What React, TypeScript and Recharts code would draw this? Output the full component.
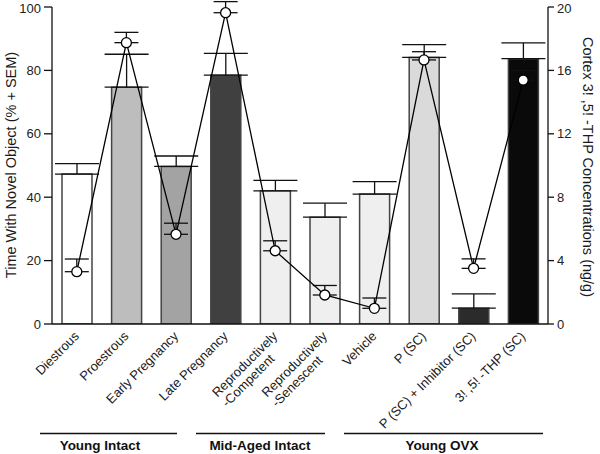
import React from 'react';
import { ComposedChart, Bar, Line, XAxis, YAxis, ErrorBar, Cell } from 'recharts';

const categories = [
  'Diestrous',
  'Proestrous',
  'Early Pregnancy',
  'Late Pregnancy',
  'Reproductively\n-Competent',
  'Reproductively\n-Senescent',
  'Vehicle',
  'P (SC)',
  'P (SC) + Inhibitor (SC)',
  '3! ,5! -THP (SC)',
];
const novelObjectPct = [47.3, 74.7, 49.7, 78.5, 42.0, 33.7, 41.0, 84.1, 5.0, 83.7];
const novelObjectSem = [3.3, 10.4, 3.3, 6.9, 3.3, 4.4, 3.9, 4.0, 4.5, 5.0];
const thpConcentration = [3.3, 17.75, 5.66, 19.64, 4.62, 1.83, 0.99, 16.66, 3.51, 15.39];
const thpSem = [0.8, 0.65, 0.7, 0.7, 0.63, 0.6, 0.65, 0.52, 0.6, 0.6];
const leftTicks = [0, 20, 40, 60, 80, 100];
const rightTicks = [0, 4, 8, 12, 16, 20];
const groupNames = ['Young Intact', 'Mid-Aged Intact', 'Young OVX'];

const data = categories.map((c, i) => ({
  name: c,
  pct: novelObjectPct[i],
  pctErr: [0, novelObjectSem[i]],
  thp: thpConcentration[i],
  thpErr: [0, thpSem[i]],
}));

// styling
const FONT = "'Liberation Sans', Arial, sans-serif";
const barFills = ['#ffffff', '#bdbdbd', '#a3a3a3', '#404040', '#efefef', '#efefef', '#efefef', '#dadada', '#2b2b2b', '#0a0a0a'];
const PLOT_BOTTOM = 324;
const groupLayout = [
  { x1: 40, x2: 177, cx: 100 },
  { x1: 196, x2: 325, cx: 260 },
  { x1: 344, x2: 543, cx: 442 },
];

let ctx: CanvasRenderingContext2D | null = null;
function measure(text: string, font: string) {
  if (!ctx) {
    const c = document.createElement('canvas');
    ctx = c.getContext('2d');
  }
  if (!ctx) return text.length * 7;
  ctx.font = font;
  return ctx.measureText(text).width;
}

function CategoryTick(props: any) {
  const { x, payload, index } = props;
  const lines = String(payload.value).split('\n');
  const ax = x + 3;
  const ay = PLOT_BOTTOM + 13;
  const fs = 13;
  const w1 = measure(lines[0], `${fs}px ${FONT}`);
  return (
    <g>
      <text
        transform={`rotate(-45, ${ax}, ${ay})`}
        x={ax - w1}
        y={ay}
        textAnchor="start"
        fontFamily={FONT}
        fontSize={fs}
        fill="#1a1a1a"
      >
        {lines.map((l, i) => (
          <tspan key={i} x={ax - w1} dy={i === 0 ? 0 : 14}>
            {l}
          </tspan>
        ))}
      </text>
      {index === 0 && (
        <g>
          {groupNames.map((g, i) => (
            <g key={g}>
              <line x1={groupLayout[i].x1} x2={groupLayout[i].x2} y1={433.5} y2={433.5} stroke="#111" strokeWidth={1.3} />
              <text x={groupLayout[i].cx} y={450} textAnchor="middle" fontFamily={FONT} fontWeight="bold" fontSize={13.5} fill="#111">
                {g}
              </text>
            </g>
          ))}
          <text
            transform="rotate(-90, 16, 165)"
            x={16}
            y={165}
            textAnchor="middle"
            fontFamily={FONT}
            fontSize={14.5}
            fill="#1a1a1a"
          >
            Time With Novel Object (% + SEM)
          </text>
          <text
            transform="rotate(90, 583, 167)"
            x={583}
            y={167}
            textAnchor="middle"
            fontFamily={FONT}
            fontSize={14.5}
            fill="#1a1a1a"
          >
            Cortex 3! ,5! -THP Concentrations (ng/g)
          </text>
        </g>
      )}
    </g>
  );
}

function Dot(props: any) {
  const { cx, cy } = props;
  if (cx == null || cy == null) return null;
  return <circle cx={cx} cy={cy} r={5} fill="#ffffff" stroke="#000" strokeWidth={1.3} />;
}

export default function App() {
  return (
    <div style={{ position: 'absolute', left: 0, top: 0, width: 600, height: 454, background: '#fff' }}>
      <ComposedChart
        width={600}
        height={454}
        data={data}
        margin={{ top: 7, right: 0, bottom: 0, left: 0 }}
        barCategoryGap={0}
      >
        <XAxis
          dataKey="name"
          xAxisId="x"
          height={130}
          interval={0}
          tickLine={false}
          axisLine={{ stroke: '#111', strokeWidth: 1.3 }}
          tick={<CategoryTick />}
        />
        <YAxis
          yAxisId="left"
          width={52}
          domain={[0, 100]}
          ticks={leftTicks}
          allowDataOverflow
          tickSize={8}
          tickMargin={3}
          axisLine={{ stroke: '#111', strokeWidth: 1.3 }}
          tickLine={{ stroke: '#111', strokeWidth: 1.3 }}
          tick={{ fontFamily: FONT, fontSize: 13, fill: '#222' }}
        />
        <YAxis
          yAxisId="right"
          orientation="right"
          width={52}
          domain={[0, 20]}
          ticks={rightTicks}
          allowDataOverflow
          tickSize={6}
          tickMargin={3}
          axisLine={{ stroke: '#111', strokeWidth: 1.3 }}
          tickLine={{ stroke: '#111', strokeWidth: 1.3 }}
          tick={{ fontFamily: FONT, fontSize: 13, fill: '#222' }}
        />
        <Bar
          dataKey="pct"
          xAxisId="x"
          yAxisId="left"
          barSize={30}
          stroke="#444"
          strokeWidth={1.5}
          isAnimationActive={false}
        >
          {data.map((d, i) => (
            <Cell key={i} fill={barFills[i]} />
          ))}
          <ErrorBar dataKey="pctErr" direction="y" width={22} stroke="#111" strokeWidth={1.3} />
        </Bar>
        <Line
          dataKey="thp"
          xAxisId="x"
          yAxisId="right"
          type="linear"
          stroke="#000"
          strokeWidth={1.3}
          dot={<Dot />}
          activeDot={false}
          isAnimationActive={false}
        >
          <ErrorBar dataKey="thpErr" direction="y" width={12} stroke="#111" strokeWidth={1.3} />
        </Line>
      </ComposedChart>
    </div>
  );
}
